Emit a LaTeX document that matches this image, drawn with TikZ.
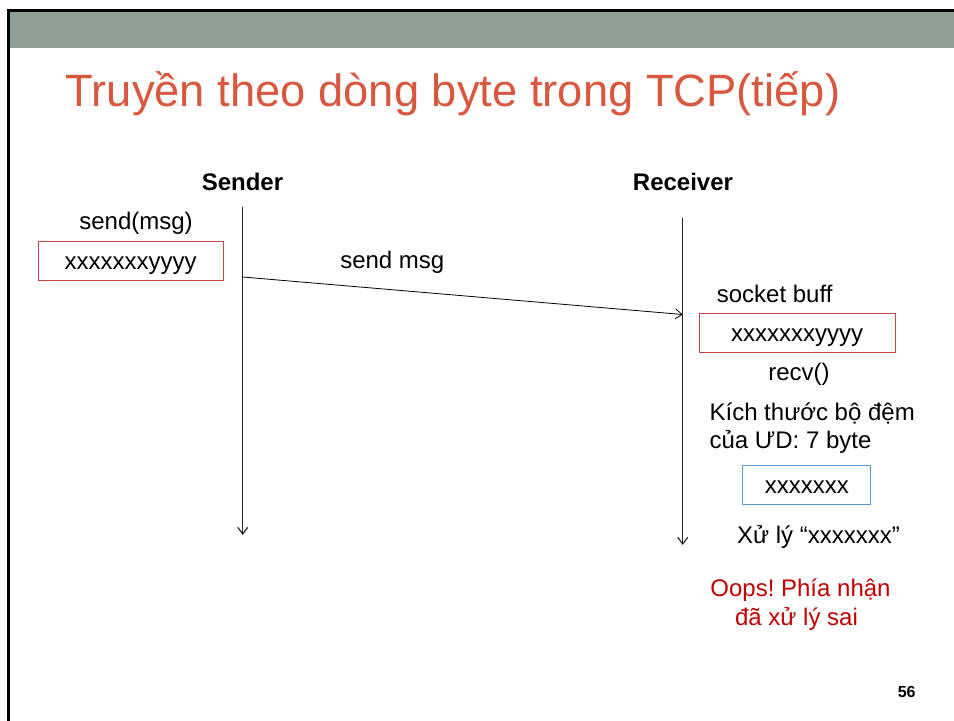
\documentclass[tikz,border=0pt]{standalone}
\usepackage{fontspec}
\setmainfont{Liberation Sans}
\usetikzlibrary{arrows.meta}
\definecolor{bandgray}{RGB}{143,161,150}
\definecolor{titlered}{RGB}{216,87,62}
\definecolor{boxred}{RGB}{200,70,70}
\definecolor{boxblue}{RGB}{91,155,213}
\definecolor{oopsred}{RGB}{192,0,0}
\frenchspacing

\begin{document}
\begin{tikzpicture}[x=0.75pt, y=-0.75pt,
  >={Straight Barb[length=5pt,width=7.5pt]},
  txt/.style={font=\fontsize{18}{22}\selectfont, inner sep=0pt, anchor=base},
  role/.style={txt, font=\fontsize{18}{22}\selectfont\bfseries},
  buf/.style={draw=boxred, line width=0.75pt, inner sep=0pt, text height=13pt, text depth=0pt,
    minimum height=29.25pt, font=\fontsize{18}{22}\selectfont},
  life/.style={line width=0.9pt, draw=black!85, ->}]
\useasboundingbox (0,0) rectangle (954,721);

\fill[bandgray] (9,11) rectangle (954,47.7);
\draw[line width=2pt] (8.5,721) -- (8.5,10.5) -- (954,10.5);

\node[anchor=base west, inner sep=0pt, text=titlered, font=\fontsize{34}{40}\selectfont] (title) at (65.5,106) {Truyền theo dòng byte trong TCP(tiếp)};

\node[role] (sender) at (242.5,190) {Sender};
\node[role] (receiver) at (683,190.5) {Receiver};

\node[txt] (send) at (136,229) {send(msg)};
\node[buf, minimum width=138.75pt] (sbuf) at (130.5,260.5) {xxxxxxxyyyy};

\coordinate (stop) at (242.7,207);
\coordinate (sbot) at (242.7,535);
\coordinate (rtop) at (682.7,217.5);
\coordinate (rbot) at (682.7,545);
\coordinate (out) at (242.7,277);
\coordinate (in) at (682.7,314.5);

\draw[life] (stop) -- (sbot);
\draw[life] (rtop) -- (rbot);
\draw[line width=0.6pt, ->] (out) -- (in);
\node[txt] (msg) at (392.3,268.3) {send msg};

\node[txt] (sock) at (774.7,302.5) {socket buff};
\node[buf, minimum width=147pt] (rbuf) at (797,332.5) {xxxxxxxyyyy};
\node[txt] (recv) at (799,380) {recv()};
\node[txt, anchor=base west] (size1) at (709.3,420.7) {Kích thước bộ đệm};
\node[txt, anchor=base west] (size2) at (709.3,448) {của ƯD: 7 byte};
\node[buf, draw=boxblue, minimum width=96.25pt] (appbuf) at (806.8,484.5) {xxxxxxx};
\node[txt] (proc) at (818.5,543.3) {Xử lý “xxxxxxx”};

\node[txt, text=oopsred] (oops1) at (800.5,596.7) {Oops! Phía nhận};
\node[txt, text=oopsred] (oops2) at (796.5,625) {đã xử lý sai};

\node[anchor=base, inner sep=0pt, font=\fontsize{12}{14}\selectfont\bfseries] (page) at (906.7,697.7) {56};
\end{tikzpicture}
\end{document}
